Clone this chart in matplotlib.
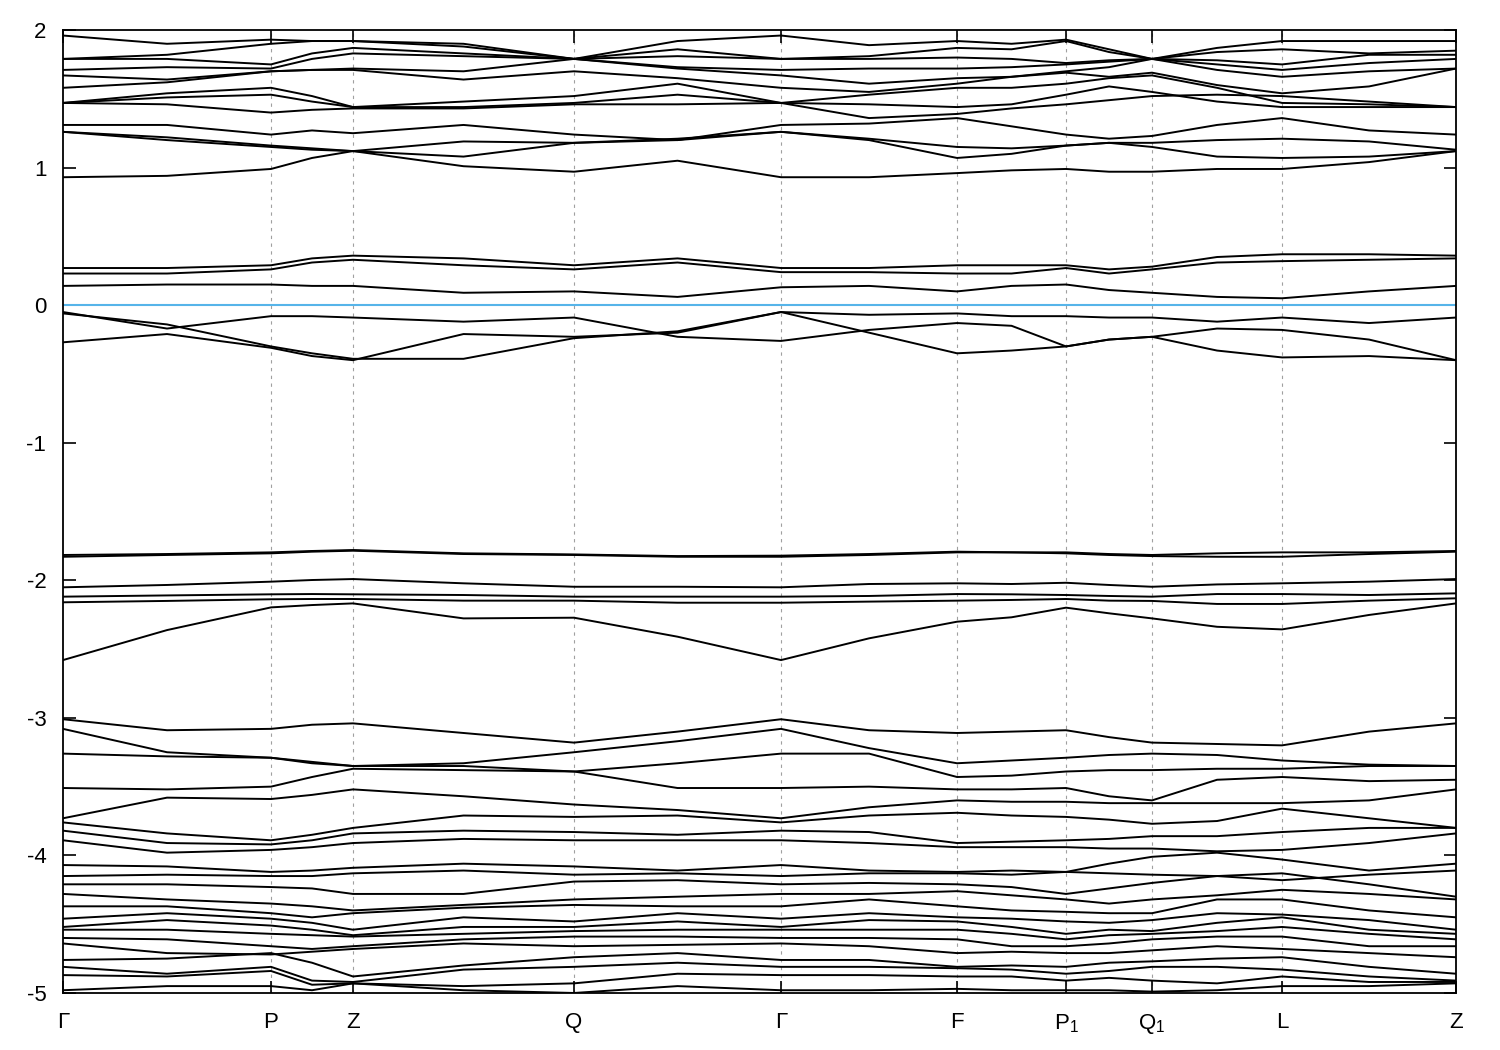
import numpy as np
import matplotlib.pyplot as plt

plt.rcParams['font.family'] = ['Liberation Sans', 'DejaVu Sans']
plt.rcParams['mathtext.default'] = 'regular'

# high symmetry points along the path (k distance)
klabels = ["Γ", "P", "Z", "Q", "Γ", "F", "P$_1$", "Q$_1$", "L", "Z"]
kticks = [0.0, 0.208, 0.290, 0.511, 0.718, 0.894, 1.003, 1.089, 1.219, 1.393]

# energies read at every k point and at the middle of every segment (eV)
conduction_high = [
    [1.96, 1.90, 1.93, 1.92, 1.92, 1.88, 1.79, 1.92, 1.96, 1.89, 1.92, 1.90, 1.93, 1.86, 1.79, 1.87, 1.92, 1.92, 1.92],
    [1.79, 1.82, 1.90, 1.92, 1.92, 1.90, 1.79, 1.86, 1.79, 1.81, 1.87, 1.86, 1.92, 1.84, 1.79, 1.84, 1.86, 1.83, 1.85],
    [1.79, 1.79, 1.75, 1.83, 1.87, 1.83, 1.79, 1.81, 1.79, 1.79, 1.80, 1.79, 1.76, 1.78, 1.79, 1.78, 1.75, 1.82, 1.82],
    [1.71, 1.73, 1.72, 1.79, 1.83, 1.81, 1.79, 1.73, 1.71, 1.72, 1.72, 1.73, 1.75, 1.77, 1.79, 1.75, 1.71, 1.76, 1.79],
    [1.67, 1.64, 1.70, 1.71, 1.72, 1.70, 1.79, 1.72, 1.67, 1.61, 1.65, 1.66, 1.70, 1.73, 1.79, 1.71, 1.66, 1.70, 1.72],
    [1.58, 1.62, 1.70, 1.71, 1.71, 1.64, 1.70, 1.65, 1.58, 1.55, 1.61, 1.66, 1.69, 1.66, 1.69, 1.60, 1.54, 1.59, 1.72],
    [1.47, 1.54, 1.58, 1.52, 1.44, 1.48, 1.52, 1.61, 1.47, 1.53, 1.58, 1.58, 1.61, 1.65, 1.67, 1.58, 1.47, 1.46, 1.44],
    [1.47, 1.51, 1.53, 1.48, 1.44, 1.44, 1.47, 1.53, 1.47, 1.46, 1.44, 1.46, 1.53, 1.59, 1.55, 1.48, 1.44, 1.44, 1.44],
    [1.47, 1.46, 1.40, 1.42, 1.43, 1.43, 1.46, 1.46, 1.47, 1.36, 1.39, 1.43, 1.46, 1.49, 1.52, 1.53, 1.52, 1.48, 1.44],
    [1.31, 1.31, 1.24, 1.27, 1.25, 1.31, 1.24, 1.20, 1.31, 1.32, 1.36, 1.30, 1.24, 1.21, 1.23, 1.31, 1.36, 1.27, 1.24],
    [1.26, 1.22, 1.16, 1.14, 1.12, 1.08, 1.18, 1.20, 1.26, 1.20, 1.07, 1.10, 1.16, 1.18, 1.18, 1.20, 1.21, 1.19, 1.13],
    [1.26, 1.20, 1.15, 1.13, 1.12, 1.19, 1.18, 1.21, 1.26, 1.21, 1.15, 1.14, 1.16, 1.18, 1.15, 1.08, 1.07, 1.08, 1.12],
    [0.93, 0.94, 0.99, 1.07, 1.12, 1.01, 0.97, 1.05, 0.93, 0.93, 0.96, 0.98, 0.99, 0.97, 0.97, 0.99, 0.99, 1.04, 1.12],
]

conduction_low = [
    [0.27, 0.27, 0.29, 0.34, 0.36, 0.34, 0.29, 0.34, 0.27, 0.27, 0.29, 0.29, 0.29, 0.26, 0.28, 0.35, 0.37, 0.37, 0.36],
    [0.23, 0.23, 0.26, 0.31, 0.33, 0.29, 0.26, 0.31, 0.24, 0.24, 0.23, 0.23, 0.27, 0.23, 0.26, 0.31, 0.32, 0.33, 0.34],
    [0.14, 0.15, 0.15, 0.14, 0.14, 0.09, 0.10, 0.06, 0.13, 0.14, 0.10, 0.14, 0.15, 0.11, 0.09, 0.06, 0.05, 0.10, 0.14],
]

valence_top = [
    [-0.05, -0.17, -0.08, -0.08, -0.09, -0.12, -0.09, -0.23, -0.26, -0.18, -0.13, -0.15, -0.30, -0.25, -0.23, -0.17, -0.18, -0.25, -0.40],
    [-0.06, -0.14, -0.30, -0.35, -0.39, -0.39, -0.24, -0.19, -0.05, -0.07, -0.06, -0.08, -0.08, -0.09, -0.09, -0.12, -0.09, -0.13, -0.09],
    [-0.27, -0.21, -0.31, -0.37, -0.40, -0.21, -0.23, -0.20, -0.05, -0.20, -0.35, -0.33, -0.30, -0.25, -0.23, -0.33, -0.38, -0.37, -0.40],
]

valence_mid = [
    [-1.816, -1.809, -1.797, -1.787, -1.780, -1.804, -1.812, -1.824, -1.821, -1.809, -1.792, -1.797, -1.797, -1.809, -1.816, -1.804, -1.797, -1.797, -1.787],
    [-1.829, -1.816, -1.804, -1.792, -1.785, -1.809, -1.816, -1.829, -1.829, -1.816, -1.797, -1.797, -1.804, -1.816, -1.824, -1.829, -1.829, -1.809, -1.792],
    [-2.051, -2.034, -2.010, -1.998, -1.991, -2.022, -2.047, -2.047, -2.051, -2.027, -2.022, -2.027, -2.018, -2.034, -2.047, -2.030, -2.022, -2.010, -1.991],
    [-2.119, -2.110, -2.102, -2.100, -2.102, -2.107, -2.119, -2.119, -2.119, -2.114, -2.100, -2.102, -2.107, -2.114, -2.119, -2.100, -2.100, -2.107, -2.095],
    [-2.160, -2.150, -2.138, -2.136, -2.136, -2.148, -2.148, -2.163, -2.163, -2.155, -2.148, -2.143, -2.136, -2.148, -2.150, -2.172, -2.172, -2.148, -2.131],
    [-2.580, -2.362, -2.197, -2.180, -2.168, -2.277, -2.272, -2.410, -2.580, -2.422, -2.301, -2.269, -2.199, -2.240, -2.277, -2.338, -2.357, -2.252, -2.168],
]

valence_low = [
    [-3.01, -3.09, -3.08, -3.05, -3.04, -3.11, -3.18, -3.10, -3.01, -3.09, -3.11, -3.10, -3.09, -3.14, -3.18, -3.19, -3.20, -3.10, -3.04],
    [-3.08, -3.25, -3.29, -3.32, -3.35, -3.33, -3.25, -3.17, -3.08, -3.22, -3.33, -3.31, -3.29, -3.27, -3.26, -3.27, -3.31, -3.34, -3.35],
    [-3.26, -3.28, -3.29, -3.33, -3.35, -3.35, -3.39, -3.33, -3.26, -3.26, -3.43, -3.42, -3.39, -3.38, -3.38, -3.37, -3.37, -3.35, -3.35],
    [-3.51, -3.52, -3.50, -3.43, -3.37, -3.38, -3.39, -3.51, -3.51, -3.50, -3.52, -3.52, -3.51, -3.57, -3.60, -3.45, -3.43, -3.46, -3.45],
    [-3.73, -3.58, -3.59, -3.56, -3.52, -3.57, -3.63, -3.67, -3.73, -3.65, -3.60, -3.61, -3.61, -3.62, -3.62, -3.62, -3.62, -3.60, -3.52],
    [-3.76, -3.84, -3.89, -3.85, -3.80, -3.71, -3.72, -3.71, -3.76, -3.71, -3.69, -3.71, -3.72, -3.74, -3.77, -3.75, -3.66, -3.73, -3.80],
    [-3.82, -3.91, -3.92, -3.89, -3.84, -3.82, -3.83, -3.85, -3.82, -3.83, -3.91, -3.90, -3.89, -3.88, -3.86, -3.86, -3.83, -3.80, -3.80],
    [-3.89, -3.98, -3.96, -3.94, -3.91, -3.88, -3.89, -3.89, -3.89, -3.91, -3.94, -3.94, -3.94, -3.95, -3.95, -3.97, -3.96, -3.91, -3.84],
    [-4.07, -4.08, -4.12, -4.11, -4.09, -4.06, -4.08, -4.11, -4.07, -4.11, -4.12, -4.11, -4.12, -4.06, -4.01, -3.98, -4.03, -4.11, -4.06],
    [-4.15, -4.14, -4.15, -4.15, -4.13, -4.11, -4.14, -4.13, -4.15, -4.13, -4.13, -4.14, -4.12, -4.13, -4.14, -4.15, -4.18, -4.14, -4.11],
    [-4.21, -4.21, -4.23, -4.24, -4.28, -4.28, -4.19, -4.18, -4.21, -4.20, -4.21, -4.23, -4.28, -4.24, -4.20, -4.15, -4.13, -4.21, -4.30],
    [-4.28, -4.32, -4.35, -4.37, -4.40, -4.36, -4.32, -4.30, -4.28, -4.28, -4.26, -4.29, -4.32, -4.35, -4.32, -4.29, -4.25, -4.28, -4.32],
    [-4.37, -4.37, -4.42, -4.45, -4.42, -4.38, -4.36, -4.37, -4.37, -4.32, -4.37, -4.40, -4.41, -4.42, -4.42, -4.32, -4.32, -4.40, -4.45],
    [-4.46, -4.42, -4.46, -4.49, -4.54, -4.45, -4.48, -4.42, -4.46, -4.42, -4.45, -4.46, -4.48, -4.49, -4.47, -4.42, -4.43, -4.47, -4.54],
    [-4.52, -4.47, -4.51, -4.54, -4.58, -4.52, -4.52, -4.48, -4.52, -4.47, -4.48, -4.52, -4.57, -4.54, -4.55, -4.49, -4.45, -4.54, -4.57],
    [-4.54, -4.54, -4.57, -4.58, -4.59, -4.57, -4.55, -4.54, -4.54, -4.54, -4.54, -4.57, -4.61, -4.58, -4.57, -4.55, -4.52, -4.57, -4.61],
    [-4.60, -4.61, -4.66, -4.68, -4.66, -4.61, -4.59, -4.59, -4.60, -4.60, -4.61, -4.66, -4.66, -4.64, -4.61, -4.59, -4.59, -4.66, -4.66],
    [-4.64, -4.71, -4.72, -4.70, -4.68, -4.64, -4.66, -4.65, -4.64, -4.66, -4.71, -4.70, -4.71, -4.71, -4.69, -4.66, -4.68, -4.71, -4.74],
    [-4.76, -4.75, -4.71, -4.78, -4.88, -4.80, -4.74, -4.71, -4.76, -4.76, -4.81, -4.80, -4.81, -4.78, -4.77, -4.75, -4.74, -4.81, -4.86],
    [-4.81, -4.86, -4.81, -4.91, -4.92, -4.83, -4.81, -4.78, -4.81, -4.81, -4.82, -4.83, -4.86, -4.84, -4.81, -4.81, -4.83, -4.88, -4.91],
    [-4.87, -4.88, -4.84, -4.94, -4.93, -4.95, -4.93, -4.86, -4.87, -4.87, -4.88, -4.88, -4.91, -4.89, -4.91, -4.93, -4.88, -4.92, -4.92],
    [-4.98, -4.95, -4.95, -4.98, -4.93, -4.98, -5.00, -4.95, -4.98, -4.98, -4.97, -4.98, -4.98, -4.98, -4.99, -4.98, -4.95, -4.95, -4.93],
]

# sample positions: each k point and the middle of each segment
kgrid = [kticks[0]]
for a, b in zip(kticks[:-1], kticks[1:]):
    kgrid += [(a + b) / 2, b]
kgrid = np.array(kgrid)

fig = plt.figure(figsize=(15, 10.5), dpi=100)
ax = fig.add_axes([0.042, 0.0543, 0.9287, 0.9171])

for k in kticks[1:-1]:
    ax.axvline(k, color='#a0a0a0', lw=0.8, ls=(0, (3, 4)), zorder=1)

ax.axhline(0, color='#56b4e9', lw=1.5, zorder=2)

for group in [conduction_high, conduction_low, valence_top, valence_mid, valence_low]:
    for band in group:
        ax.plot(kgrid, band, color='black', lw=1.4, zorder=3)

ax.set_xlim(kticks[0], kticks[-1])
ax.set_ylim(-5, 2)
ax.set_xticks(kticks)
ax.set_xticklabels(klabels)
ax.set_yticks(range(-5, 3))
ax.set_yticklabels([str(v) for v in range(-5, 3)])
ax.tick_params(direction='in', length=9, width=1.2, labelsize=16,
               top=True, right=True, labelright=False)
ax.tick_params(axis='x', pad=14)
ax.tick_params(axis='y', pad=12)
for s in ax.spines.values():
    s.set_linewidth(1.3)

fig.savefig('out.png', dpi=100)
